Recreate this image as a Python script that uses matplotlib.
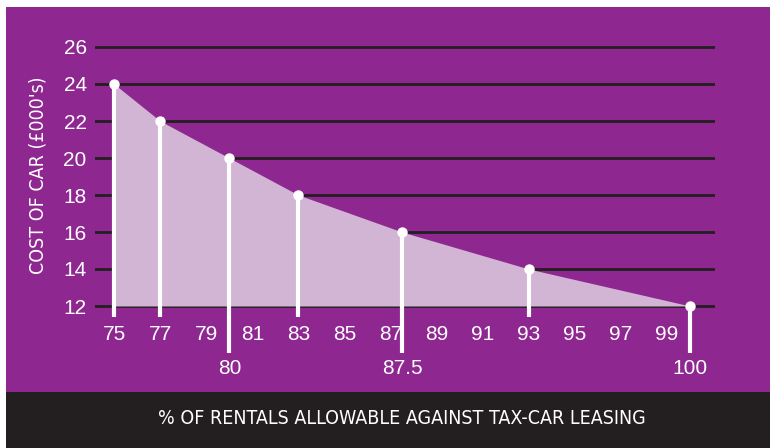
import matplotlib.pyplot as plt
from matplotlib.patches import Rectangle

# data
pct = [75, 77, 80, 83, 87.5, 93, 100]
cost = [24, 22, 20, 18, 16, 14, 12]
top_ticks = [75, 77, 79, 81, 83, 85, 87, 89, 91, 93, 95, 97, 99]
low_ticks = [80, 87.5, 100]
y_ticks = [12, 14, 16, 18, 20, 22, 24, 26]

purple = "#8E278F"
fill_col = "#D2B4D4"
dark = "#231F20"

fig = plt.figure(figsize=(7.7, 4.48), dpi=100)
fig.patch.set_facecolor("white")

# backgrounds on their own axes behind everything
bg = fig.add_axes([0, 0, 1, 1], zorder=-1)
bg.set_xlim(0, 770)
bg.set_ylim(448, 0)
bg.axis("off")
bg.add_patch(Rectangle((6, 7), 770, 392 - 7, facecolor=purple, edgecolor="none"))
bg.add_patch(Rectangle((6, 392), 770, 56, facecolor=dark, edgecolor="none"))

cond = dict(family="DejaVu Sans", stretch="condensed")
num = dict(family="Liberation Sans", fontsize=15, color="white")

ax = fig.add_axes([95 / 770, 68 / 448, 620 / 770, 351.5 / 448])
ax.set_facecolor("none")
ax.set_xlim(74.17, 101.08)
ax.set_ylim(8, 27)
for s in ax.spines.values():
    s.set_visible(False)
ax.set_xticks([])
ax.set_yticks(y_ticks)
ax.set_yticklabels([str(v) for v in y_ticks], **num)
ax.tick_params(axis="y", length=0, pad=6)

# grid lines
for v in y_ticks:
    ax.axhline(v, color=dark, lw=2, zorder=1)

# shaded area under the curve
ax.fill_between(pct, cost, 12, color=fill_col, lw=0, zorder=2)

# stems and dots
for x, y in zip(pct, cost):
    bottom = 9.46 if x in low_ticks else 11.4
    ax.plot([x, x], [bottom, y], color="white", lw=3, solid_capstyle="butt", zorder=3)
ax.plot(pct, cost, "o", color="white", ms=6.5, zorder=4)

# x tick labels (two rows)
for t in top_ticks:
    ax.text(t, 10.45, str(t), ha="center", va="center", **num)
for t in low_ticks:
    ax.text(t, 8.6, str(t), ha="center", va="center", **num)

# y label
fig.text(38 / 770, 1 - 175 / 448, "COST OF CAR (£000's)", rotation=90, color="white",
         fontsize=14, ha="center", va="center", **cond)

# x title in dark band
fig.text(402 / 770, 1 - 418 / 448, "% OF RENTALS ALLOWABLE AGAINST TAX-CAR LEASING",
         color="white", fontsize=14, ha="center", va="center", **cond)

fig.savefig("out.png", dpi=100)
